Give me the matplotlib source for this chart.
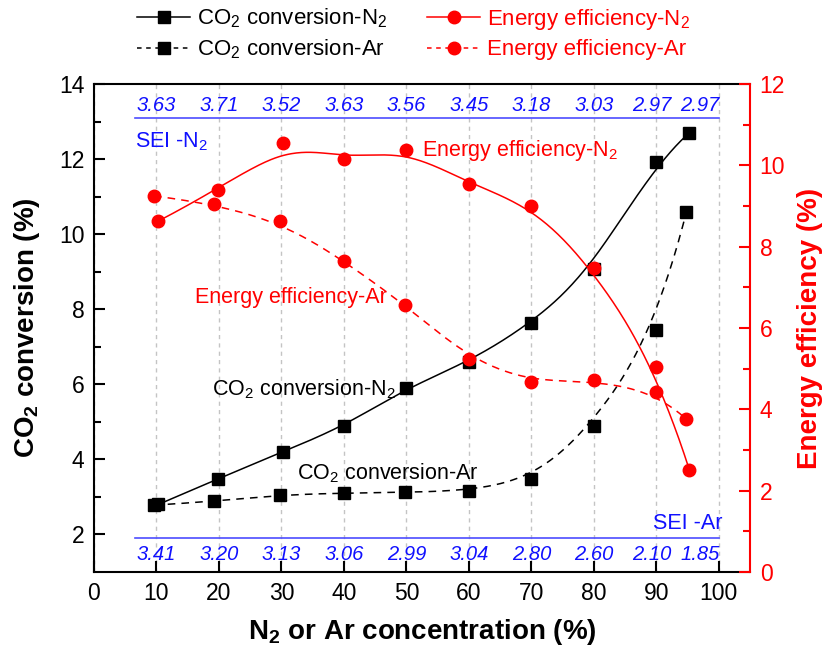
import numpy as np
import matplotlib
matplotlib.use("Agg")
import matplotlib.pyplot as plt

plt.rcParams['font.family'] = ['Liberation Sans', 'DejaVu Sans']
plt.rcParams['mathtext.fontset'] = 'custom'
plt.rcParams['mathtext.rm'] = 'Liberation Sans'
plt.rcParams['mathtext.it'] = 'Liberation Sans:italic'
plt.rcParams['mathtext.bf'] = 'Liberation Sans:bold'

# concentrations (%)
conc_n2 = [10.3, 19.8, 30.2, 40, 50, 60, 70, 80, 90, 95.3]
conc_ar = [9.6, 19.2, 29.8, 40, 49.8, 60, 70, 80, 90, 94.8]

# CO2 conversion (%)
co2_n2 = [2.80, 3.48, 4.20, 4.88, 5.90, 6.60, 7.62, 9.08, 11.93, 12.70]
co2_ar = [2.78, 2.88, 3.06, 3.10, 3.12, 3.17, 3.48, 4.88, 7.45, 10.58]

# energy efficiency (%)
ee_n2 = [8.63, 9.39, 10.55, 10.15, 10.38, 9.55, 9.00, 7.48, 5.04, 2.51]
ee_ar = [9.25, 9.05, 8.63, 7.65, 6.57, 5.24, 4.67, 4.72, 4.43, 3.76]

# specific energy input labels
sei_conc = [10, 20, 30, 40, 50, 60, 70, 80, 90, 95]
sei_n2 = ['3.63', '3.71', '3.52', '3.63', '3.56', '3.45', '3.18', '3.03', '2.97', '2.97']
sei_ar = ['3.41', '3.20', '3.13', '3.06', '2.99', '3.04', '2.80', '2.60', '2.10', '1.85']


def bspline(x, y, n=400, k=3):
    # clamped uniform cubic B-spline using the points as control polygon
    P = np.column_stack([x, y]).astype(float)
    m = len(P)
    knots = np.concatenate([np.zeros(k), np.linspace(0, 1, m - k + 1), np.ones(k)])
    t = np.linspace(0, 1, n)
    B = np.zeros((n, len(knots) - 1))
    for i in range(len(knots) - 1):
        B[:, i] = (knots[i] <= t) & (t < knots[i + 1])
    B[-1, m - 1] = 1.0
    for p in range(1, k + 1):
        Bn = np.zeros((n, len(knots) - 1 - p))
        for i in range(len(knots) - 1 - p):
            d1 = knots[i + p] - knots[i]
            d2 = knots[i + p + 1] - knots[i + 1]
            a = (t - knots[i]) / d1 * B[:, i] if d1 > 0 else 0
            b = (knots[i + p + 1] - t) / d2 * B[:, i + 1] if d2 > 0 else 0
            Bn[:, i] = a + b
        B = Bn
    C = B @ P
    return C[:, 0], C[:, 1]


fig = plt.figure(figsize=(8.32, 6.54), dpi=100)
ax1 = fig.add_axes([94 / 832, 1 - 572 / 654, 656 / 832, 488 / 654])
ax2 = ax1.twinx()

# CO2 conversion curves
sx, sy = bspline(conc_n2, co2_n2)
ax1.plot(sx, sy, color='black', lw=1.1)
sx, sy = bspline(conc_ar, co2_ar)
ax1.plot(sx, sy, color='black', lw=1.1, ls=(0, (5, 4)))
ax1.plot(conc_n2, co2_n2, 's', color='black', ms=8)
ax1.plot(conc_ar, co2_ar, 's', color='black', ms=8)

# energy efficiency curves
sx, sy = bspline(conc_n2, ee_n2)
ax2.plot(sx, sy, color='red', lw=1.1)
sx, sy = bspline(conc_ar, ee_ar)
ax2.plot(sx, sy, color='red', lw=1.1, ls=(0, (5, 4)))
ax2.plot(conc_n2, ee_n2, 'o', color='red', ms=9)
ax2.plot(conc_ar, ee_ar, 'o', color='red', ms=9)

ax1.set_xlim(0, 105)
ax1.set_ylim(1, 14)
ax2.set_ylim(0, 12)
ax1.set_xticks(np.arange(0, 101, 10))
ax1.set_yticks(np.arange(2, 15, 2))
ax1.set_yticks(np.arange(3, 14, 2), minor=True)
ax2.set_yticks(np.arange(0, 13, 2))
ax2.set_yticks(np.arange(1, 12, 2), minor=True)

ax1.grid(axis='x', color='#c4c4c4', ls=(0, (3, 3)), lw=1)
ax1.set_axisbelow(True)

for sp in ax1.spines.values():
    sp.set_linewidth(1.5)
ax1.spines['right'].set_visible(False)
for name in ['left', 'top', 'bottom']:
    ax2.spines[name].set_visible(False)
ax2.spines['right'].set_color('red')
ax2.spines['right'].set_linewidth(1.5)

ax1.tick_params(axis='both', which='major', direction='in', length=8, width=1.5, labelsize=16.5, pad=7)
ax1.tick_params(axis='y', which='minor', direction='in', length=5, width=1.5)
ax1.tick_params(axis='x', which='minor', bottom=False)
ax2.tick_params(axis='y', which='major', direction='in', length=8, width=1.5, colors='red', labelsize=16.5, pad=7)
ax2.tick_params(axis='y', which='minor', direction='in', length=5, width=1.5, colors='red')

ax1.set_xlabel('N$_\\mathbf{2}$ or Ar concentration (%)', fontsize=20, fontweight='bold')
ax1.set_ylabel('CO$_\\mathbf{2}$ conversion (%)', fontsize=20, fontweight='bold')
ax2.set_ylabel('Energy efficiency (%)', fontsize=20, fontweight='bold', color='red',
               rotation=90)
ax1.xaxis.set_label_coords(0.5, -0.092)
ax1.yaxis.set_label_coords(-0.079, 0.5)
ax2.yaxis.set_label_coords(1.072, 0.5)

# SEI rows
blue = '#1010ff'
shift = [0, 0, 0, 0, 0, 0, 0, 0, -0.7, 2.0]
ax1.plot([6.5, 100], [13.09, 13.09], color='#4d4dff', lw=1.2)
ax1.plot([6.5, 100], [1.91, 1.91], color='#4d4dff', lw=1.2)
for c, d, a, b in zip(sei_conc, shift, sei_n2, sei_ar):
    ax1.text(c + d, 13.44, a, color=blue, fontsize=14.5, style='italic', ha='center', va='center')
    ax1.text(c + d, 1.46, b, color=blue, fontsize=14.5, style='italic', ha='center', va='center')
ax1.text(6.6, 12.45, 'SEI -N$_2$', color=blue, fontsize=15.5, ha='left', va='center')
ax1.text(100.6, 2.29, 'SEI -Ar', color=blue, fontsize=15.5, ha='right', va='center')

# curve annotations
ax1.text(52.5, 12.24, 'Energy efficiency-N$_2$', color='red', fontsize=15.5, ha='left', va='center')
ax1.text(16.2, 8.3, 'Energy efficiency-Ar', color='red', fontsize=15.5, ha='left', va='center')
ax1.text(18.9, 5.87, 'CO$_2$ conversion-N$_2$', color='black', fontsize=15.5, ha='left', va='center')
ax1.text(32.5, 3.63, 'CO$_2$ conversion-Ar', color='black', fontsize=15.5, ha='left', va='center')

# legend above the axes
h = [
    plt.Line2D([], [], color='black', lw=1.1, marker='s', ms=8),
    plt.Line2D([], [], color='black', lw=1.1, ls=(0, (3, 3)), marker='s', ms=8),
    plt.Line2D([], [], color='red', lw=1.1, marker='o', ms=9),
    plt.Line2D([], [], color='red', lw=1.1, ls=(0, (3, 3)), marker='o', ms=9),
]
labels = ['CO$_2$ conversion-N$_2$', 'CO$_2$ conversion-Ar',
          'Energy efficiency-N$_2$', 'Energy efficiency-Ar']
fig.legend(h, labels, ncol=2, loc='center', bbox_to_anchor=(0.497, 0.948), frameon=False,
           fontsize=16, labelcolor='linecolor', handlelength=2.4, columnspacing=1.8,
           handletextpad=0.3, labelspacing=0.35)

fig.savefig('out.png', dpi=100)
